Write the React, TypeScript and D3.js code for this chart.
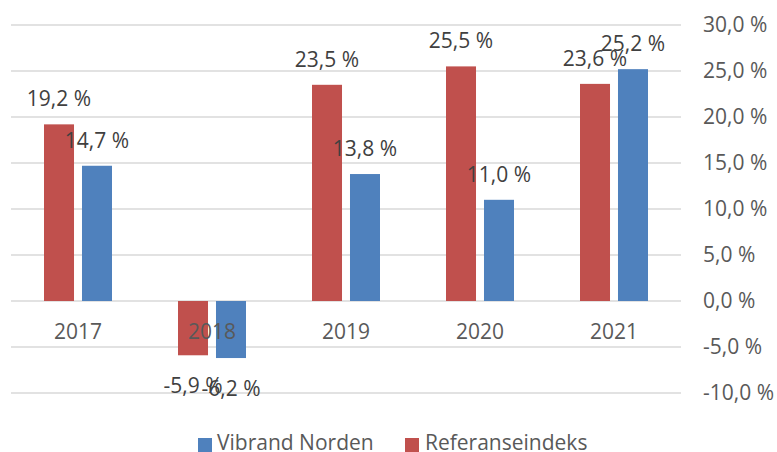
import * as d3 from "d3";

const YEARS = ["2017", "2018", "2019", "2020", "2021"];
const VIBRAND = [14.7, -6.2, 13.8, 11.0, 25.2];
const REFERANSE = [19.2, -5.9, 23.5, 25.5, 23.6];
const Y_TICKS = [-10, -5, 0, 5, 10, 15, 20, 25, 30];

const RED = "#C0504D";
const BLUE = "#4F81BD";
const GRID = "#D9D9D9";
const FONT = "'Open Sans', sans-serif";
const FS = 21;

const WIDTH = 777;
const HEIGHT = 452;

const fmt = (v: number) => `${v.toFixed(1).replace(".", ",")} %`;

export default function App() {
  const x0 = d3.scaleBand<string>().domain(YEARS).range([11, 681]);
  const x1 = d3
    .scaleBand<string>()
    .domain(["ref", "vib"])
    .range([33, 101])
    .paddingInner(0.21);
  const y = d3.scaleLinear().domain([-10, 30]).range([393, 25]);

  const series = [
    { key: "ref", values: REFERANSE, color: RED },
    { key: "vib", values: VIBRAND, color: BLUE },
  ];

  return (
    <svg
      width={WIDTH}
      height={HEIGHT}
      style={{ position: "absolute", left: 0, top: 0, background: "#fff" }}
      fontFamily={FONT}
    >
      {Y_TICKS.map((t) => (
        <line
          key={`g${t}`}
          x1={11}
          x2={681}
          y1={y(t)}
          y2={y(t)}
          stroke={GRID}
          strokeWidth={1.5}
        />
      ))}
      {Y_TICKS.map((t) => (
        <text
          key={`t${t}`}
          x={703}
          y={y(t)}
          dy="0.33em"
          fontSize={FS}
          fill="#595959"
        >
          {fmt(t)}
        </text>
      ))}

      {series.map((s) =>
        s.values.map((v, i) => {
          const bx = (x0(YEARS[i]) ?? 0) + (x1(s.key) ?? 0);
          return (
            <rect
              key={`${s.key}${i}`}
              x={bx}
              width={x1.bandwidth()}
              y={Math.min(y(v), y(0))}
              height={Math.abs(y(v) - y(0))}
              fill={s.color}
            />
          );
        })
      )}

      {YEARS.map((yr) => (
        <text
          key={yr}
          x={(x0(yr) ?? 0) + x0.bandwidth() / 2}
          y={339}
          textAnchor="middle"
          fontSize={FS}
          fill="#595959"
        >
          {yr}
        </text>
      ))}

      {series.map((s) =>
        s.values.map((v, i) => {
          const cx =
            (x0(YEARS[i]) ?? 0) + (x1(s.key) ?? 0) + x1.bandwidth() / 2;
          const ly = v >= 0 ? y(v) - 18 : y(v) + 38;
          return (
            <text
              key={`l${s.key}${i}`}
              x={cx}
              y={ly}
              textAnchor="middle"
              fontSize={FS}
              fill="#404040"
            >
              {fmt(v)}
            </text>
          );
        })
      )}

      <g>
        <rect x={198} y={438} width={14} height={14} fill={BLUE} />
        <text x={217} y={450} fontSize={FS} fill="#595959">
          Vibrand Norden
        </text>
        <rect x={405} y={438} width={14} height={14} fill={RED} />
        <text x={425} y={450} fontSize={FS} fill="#595959">
          Referanseindeks
        </text>
      </g>
    </svg>
  );
}
